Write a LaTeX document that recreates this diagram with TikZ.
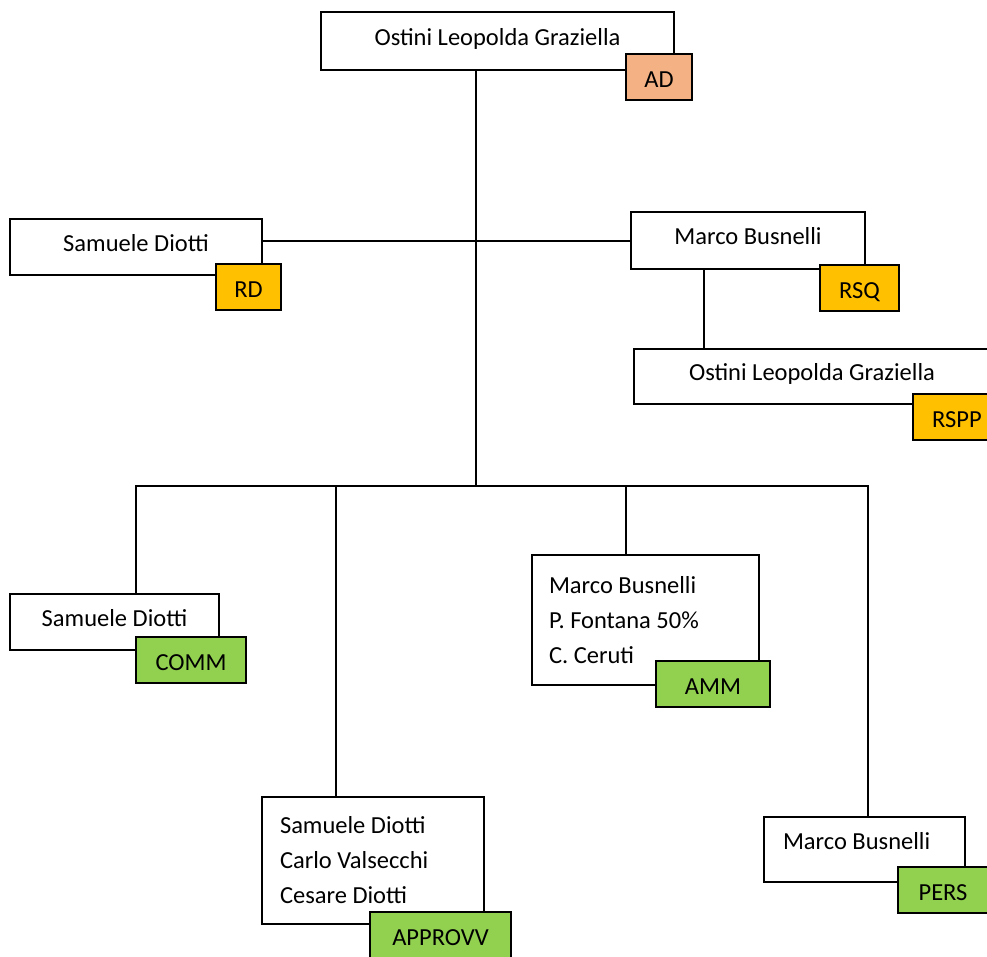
\documentclass[tikz,border=0pt]{standalone}
\usepackage{fontspec}
\setmainfont{Carlito}

\begin{document}
\begin{tikzpicture}[x=1pt,y=-1pt,line cap=rect,
  font=\fontsize{24.5pt}{35pt}\selectfont,
  box/.style={draw=custcol_0_0_0, line width=1.5pt, fill=custcol_ff_ff_ff, anchor=north west, inner sep=0, outer sep=0},
  onebox/.style={box, text depth=9pt},
  listbox/.style={box, align=flush left, inner xsep=#1},
  tag/.style={draw=custcol_0_0_0, line width=1.6pt, anchor=north west, inner sep=0, outer sep=0, minimum height=46pt, text depth=0pt, text height=21pt},
  wire/.style={line width=1.5pt, custcol_0_0_0}]
\useasboundingbox (0,0) rectangle (987,956);
\definecolor{custcol_0_0_0}{RGB}{0, 0, 0}
\definecolor{custcol_ff_ff_ff}{RGB}{255, 255, 255}
\definecolor{custcol_f4_b1_83}{RGB}{244, 177, 131}
\definecolor{custcol_ff_c0_00}{RGB}{255, 192, 0}
\definecolor{custcol_92_d0_50}{RGB}{146, 208, 80}
% boxes
\node[onebox, minimum width=353pt, minimum height=58pt] (ceo) at (321.0,12.0) {Ostini Leopolda Graziella};
\node[onebox, minimum width=252pt, minimum height=56pt] (rd) at (10.0,219.0) {Samuele Diotti};
\node[onebox, minimum width=234pt, minimum height=57pt] (rsq) at (631.0,212.0) {Marco Busnelli};
\node[onebox, minimum width=356pt, minimum height=55pt] (rspp) at (634.0,349.0) {Ostini Leopolda Graziella};
\node[onebox, minimum width=209pt, minimum height=56pt] (comm) at (10.0,594.0) {Samuele Diotti};
\node[listbox=17pt, text width=193pt, minimum height=130pt] (amm) at (532.0,555.0) {Marco Busnelli\\P. Fontana 50\%\\C. Ceruti};
\node[listbox=18pt, text width=186pt, minimum height=127pt] (appr) at (262.0,797.0) {Samuele Diotti\\Carlo Valsecchi\\Cesare Diotti};
\node[listbox=19pt, text width=163pt, minimum height=65pt, text depth=18pt] (pers) at (764.0,817.0) {Marco Busnelli};
% tags
\node[tag, fill=custcol_f4_b1_83, minimum width=66pt] (tagAD) at (626.0,54.0) {AD};
\node[tag, fill=custcol_ff_c0_00, minimum width=65pt] (tagRD) at (216.0,264.0) {RD};
\node[tag, fill=custcol_ff_c0_00, minimum width=79pt] (tagRSQ) at (820.0,265.0) {RSQ};
\node[tag, fill=custcol_ff_c0_00, minimum width=88pt] (tagRSPP) at (913.0,394.0) {RSPP};
\node[tag, fill=custcol_92_d0_50, minimum width=110pt] (tagCOMM) at (136.0,637.0) {COMM};
\node[tag, fill=custcol_92_d0_50, minimum width=114pt] (tagAMM) at (656.0,661.0) {AMM};
\node[tag, fill=custcol_92_d0_50, minimum width=141pt] (tagAPPR) at (370.0,912.0) {APPROVV};
\node[tag, fill=custcol_92_d0_50, minimum width=90pt] (tagPERS) at (898.0,867.0) {PERS};
% connectors
\coordinate (mid) at (476.0,241.0);
\coordinate (split) at (476.0,486.0);
\coordinate (sub) at (704.0,300.0);
\coordinate (b1) at (136.0,486.0);
\coordinate (b2) at (336.0,486.0);
\coordinate (b3) at (626.0,486.0);
\coordinate (b4) at (868.0,486.0);
\draw [wire] (ceo.south -| split) -- (split);
\draw [wire] (rd.east |- mid) -- (rsq.west |- mid);
\draw [wire] (rsq.south -| sub) -- (rspp.north -| sub);
\draw [wire] (b1) -- (b4);
\draw [wire] (b1) -- (b1 |- comm.north);
\draw [wire] (b2) -- (b2 |- appr.north);
\draw [wire] (b3) -- (b3 |- amm.north);
\draw [wire] (b4) -- (b4 |- pers.north);
\end{tikzpicture}
\end{document}
